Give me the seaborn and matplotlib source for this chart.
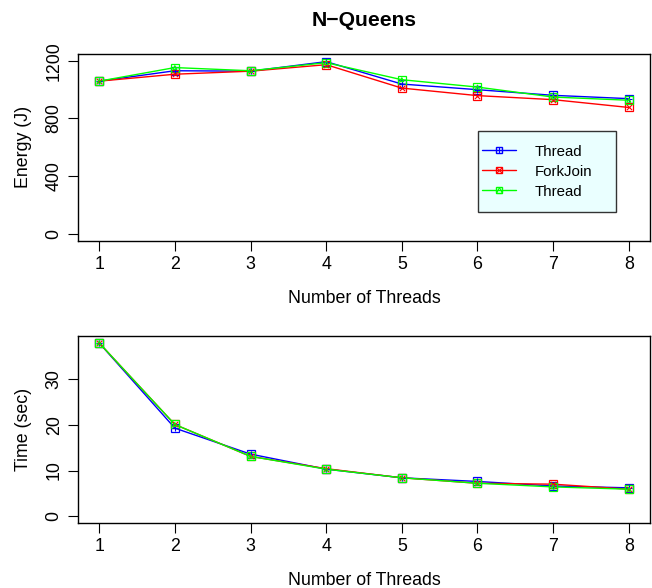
import numpy as np
import pandas as pd
import matplotlib
matplotlib.use("Agg")
import matplotlib.pyplot as plt
import seaborn as sns
from matplotlib.lines import Line2D
from matplotlib.patches import Rectangle

sns.set_theme(style="white")
plt.rcParams['font.family'] = ['Liberation Sans', 'DejaVu Sans']
plt.rcParams['text.color'] = 'black'
plt.rcParams['axes.labelcolor'] = 'black'
plt.rcParams['xtick.color'] = 'black'
plt.rcParams['ytick.color'] = 'black'

threads = [1, 2, 3, 4, 5, 6, 7, 8]
series_names = ["Thread", "ForkJoin", "Thread"]
energy_thread = [1058, 1130, 1127, 1193, 1038, 999, 960, 937]
energy_forkjoin = [1058, 1106, 1127, 1172, 1010, 958, 930, 876]
energy_thread2 = [1058, 1152, 1130, 1186, 1068, 1017, 948, 926]
time_thread = [38.0, 19.3, 13.6, 10.3, 8.4, 7.6, 6.6, 6.2]
time_forkjoin = [38.0, 20.1, 13.1, 10.4, 8.4, 7.2, 7.0, 5.9]
time_thread2 = [38.0, 20.1, 13.1, 10.3, 8.4, 7.2, 6.4, 5.9]
energy_ticks = [0, 400, 800, 1200]
time_ticks = [0, 10, 20, 30]

colors = ["#0000FF", "#FF0000", "#00FF00"]
inner = ["+", "x", "^"]

fig = plt.figure(figsize=(6.52, 5.88), dpi=100)
ax1 = fig.add_axes([78/652, (588-241)/588, 572/652, 187.3/588])
ax2 = fig.add_axes([78/652, (588-523)/588, 572/652, 187/588])

FS = 12.8

def draw(ax, ys, ylim, ticks, ylabel):
    for y, c, m in zip(ys, colors, inner):
        df = pd.DataFrame({"x": threads, "y": y})
        sns.lineplot(data=df, x="x", y="y", ax=ax, color=c, lw=1.0,
                     marker="s", markersize=6, markerfacecolor="none",
                     markeredgecolor=c, markeredgewidth=0.9)
        sns.scatterplot(data=df, x="x", y="y", ax=ax, color=c, marker=m,
                        s=14 if m != "^" else 8, linewidth=0.8,
                        edgecolor=c if m == "^" else None,
                        facecolor="none" if m == "^" else c, zorder=5)
    pad = 0.04 * (ylim[1] - ylim[0])
    ax.set_ylim(ylim[0] - pad, ylim[1] + pad)
    ax.set_xlim(1 - 0.28, 8 + 0.28)
    ax.set_xticks(threads)
    ax.set_xticklabels([str(t) for t in threads], fontsize=FS)
    ax.set_yticks(ticks)
    ax.set_yticklabels([str(t) for t in ticks], fontsize=FS, rotation=90, va="center")
    ax.tick_params(axis="both", direction="out", length=7, width=0.8, color="black",
                   left=True, bottom=True, pad=4)
    for s in ax.spines.values():
        s.set_visible(True)
        s.set_color("black")
        s.set_linewidth(1.0)
    ax.set_xlabel("Number of Threads", fontsize=FS, labelpad=12)
    ax.set_ylabel(ylabel, fontsize=FS, labelpad=10)

draw(ax1, [energy_thread, energy_forkjoin, energy_thread2], (0, 1200), energy_ticks, "Energy (J)")
draw(ax2, [time_thread, time_forkjoin, time_thread2], (0, 38.0), time_ticks, "Time (sec)")

fig.text((78 + 650) / 2 / 652, 1 - 20 / 588, "N\u2212Queens", ha="center", va="center",
         fontsize=15.2, fontweight="bold")

# legend box (R-style) drawn as a patch, legend entries without frame
ax1.add_patch(Rectangle((0.699, 0.155), 0.242, 0.432, transform=ax1.transAxes,
                        facecolor="#EAFFFF", edgecolor="#333333", lw=1.0, zorder=6))
handles = []
for c, m in zip(colors, inner):
    h1 = Line2D([], [], color=c, lw=1.0, marker="s", markersize=5,
                markerfacecolor="none", markeredgecolor=c)
    h2 = Line2D([], [], color=c, lw=0, marker=m, markersize=4, markeredgewidth=0.8,
                markerfacecolor="none", markeredgecolor=c)
    handles.append((h1, h2))
leg = ax1.legend(handles, series_names, loc="center left",
                 bbox_to_anchor=(0.706, 0.371), borderaxespad=0, borderpad=0,
                 fontsize=10.8, frameon=False,
                 handlelength=2.3, handletextpad=1.2,
                 labelspacing=0.4, numpoints=1)
leg.set_zorder(7)

fig.savefig("out.png", dpi=100)
